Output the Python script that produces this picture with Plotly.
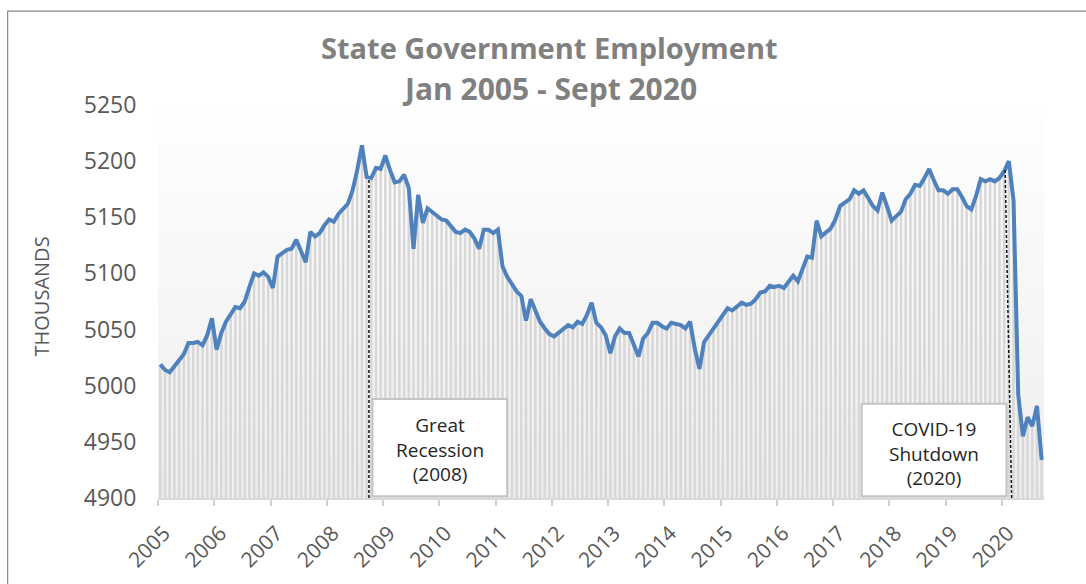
import plotly.graph_objects as go

# ---------------- data (thousands, monthly, Jan 2005 - Sep 2020) ----------------
employment = [
    5019, 5014, 5012, 5017, 5022, 5028, 5038, 5038, 5039, 5036, 5045, 5060,   # 2005
    5032, 5047, 5057, 5063, 5070, 5069, 5075, 5088, 5100, 5098, 5101, 5097,   # 2006
    5087, 5115, 5118, 5121, 5122, 5130, 5120, 5110, 5137, 5133, 5136, 5143,   # 2007
    5148, 5146, 5153, 5157, 5162, 5174, 5192, 5214, 5186, 5185, 5194, 5193,   # 2008
    5205, 5192, 5181, 5182, 5188, 5176, 5122, 5170, 5145, 5158, 5155, 5151,   # 2009
    5148, 5147, 5142, 5137, 5136, 5139, 5137, 5131, 5122, 5139, 5139, 5136,   # 2010
    5139, 5106, 5097, 5091, 5084, 5080, 5058, 5077, 5068, 5057, 5051, 5046,   # 2011
    5044, 5047, 5050, 5054, 5052, 5057, 5055, 5063, 5074, 5056, 5052, 5045,   # 2012
    5029, 5044, 5051, 5047, 5047, 5037, 5026, 5042, 5047, 5056, 5056, 5053,   # 2013
    5051, 5056, 5055, 5054, 5051, 5057, 5033, 5015, 5039, 5045, 5050, 5056,   # 2014
    5062, 5069, 5067, 5071, 5074, 5072, 5073, 5077, 5083, 5084, 5089, 5088,   # 2015
    5089, 5087, 5093, 5098, 5093, 5105, 5115, 5114, 5147, 5133, 5137, 5140,   # 2016
    5148, 5160, 5163, 5166, 5174, 5171, 5174, 5167, 5160, 5156, 5172, 5160,   # 2017
    5147, 5151, 5155, 5166, 5171, 5179, 5178, 5185, 5193, 5183, 5174, 5174,   # 2018
    5171, 5175, 5175, 5168, 5160, 5157, 5169, 5184, 5182, 5184, 5182, 5185,   # 2019
    5191, 5200, 5165, 4992, 4955, 4972, 4964, 4982, 4934,                     # 2020
]
year_labels = [str(y) for y in range(2005, 2021)]
y_ticks = [4900, 4950, 5000, 5050, 5100, 5150, 5200, 5250]
y_range = [4900, 5250]

# event markers (month index, value at top of the marker line)
recession_idx, recession_top = 44.5, 5184
covid_top_idx, covid_bottom_idx, covid_top = 180.2, 181.6, 5194
events_text = {
    "recession": "Great<br>Recession<br>(2008)",
    "covid": "COVID-19<br>Shutdown<br>(2020)",
}

month_idx = list(range(len(employment)))
x_range = [-0.5, len(employment) - 0.5]
year_tickvals = [12 * k - 0.5 for k in range(len(year_labels))]

TXT = "#595959"
FONT = "Open Sans"

fig = go.Figure()
fig.add_trace(go.Bar(
    x=month_idx, y=employment,
    marker=dict(color="#d8d8d8", line=dict(width=0)),
    hoverinfo="skip", showlegend=False,
))
fig.add_trace(go.Scatter(
    x=month_idx, y=employment, mode="lines",
    line=dict(color="#4F81BD", width=4),
    showlegend=False,
))

shapes = []
# subtle vertical gradient background of the plot area
n_bands = 30
for k in range(n_bands):
    f = k / (n_bands - 1)
    c = int(round(0xee + (0xfe - 0xee) * f))
    y0 = y_range[0] + (y_range[1] - y_range[0]) * k / n_bands
    y1 = y_range[0] + (y_range[1] - y_range[0]) * (k + 1) / n_bands
    shapes.append(dict(type="rect", xref="x", yref="y", x0=x_range[0], x1=x_range[1],
                       y0=y0, y1=y1, fillcolor=f"rgb({c},{c},{c})",
                       line=dict(width=0), layer="below"))

# dashed event lines
shapes.append(dict(type="line", xref="x", yref="y", x0=recession_idx, x1=recession_idx,
                   y0=y_range[0], y1=recession_top,
                   line=dict(color="#111111", width=1.5, dash="3px,2px"), layer="above"))
shapes.append(dict(type="line", xref="x", yref="y", x0=covid_bottom_idx, x1=covid_top_idx,
                   y0=y_range[0], y1=covid_top,
                   line=dict(color="#111111", width=1.5, dash="3px,2px"), layer="above"))
# text boxes
shapes.append(dict(type="rect", xref="x", yref="y", x0=45.25, x1=73.98, y0=4901.5, y1=4988.2,
                   fillcolor="white", line=dict(color="#c4c4c4", width=2), layer="above"))
shapes.append(dict(type="rect", xref="x", yref="y", x0=149.6, x1=180.5, y0=4901.5, y1=4984,
                   fillcolor="white", line=dict(color="#c4c4c4", width=2), layer="above"))
# outer chart border
shapes.append(dict(type="rect", xref="paper", yref="paper", x0=-0.1697, x1=1.06,
                   y0=-0.25, y1=1.2389, line=dict(color="#8a8a8a", width=1.2),
                   fillcolor="rgba(0,0,0,0)", layer="below"))

annotations = [
    dict(text="<b>State Government Employment</b>", xref="paper", yref="paper",
         x=0.4423, y=1.147, xanchor="center", yanchor="middle", showarrow=False,
         font=dict(family=FONT, size=29, color="#808080")),
    dict(text="<b>Jan 2005 - Sept 2020</b>", xref="paper", yref="paper",
         x=0.4423, y=1.043, xanchor="center", yanchor="middle", showarrow=False,
         font=dict(family=FONT, size=30, color="#808080")),
    dict(text="THOUSANDS", xref="paper", yref="paper", x=-0.1313, y=0.512,
         textangle=-90, xanchor="center", yanchor="middle", showarrow=False,
         font=dict(family=FONT, size=20, color=TXT)),
    dict(text=events_text["recession"], xref="x", yref="y", x=59.6, y=4943,
         xanchor="center", yanchor="middle", showarrow=False,
         font=dict(family=FONT, size=19, color="#262626")),
    dict(text=events_text["covid"], xref="x", yref="y", x=165.1, y=4940,
         xanchor="center", yanchor="middle", showarrow=False,
         font=dict(family=FONT, size=19, color="#262626")),
]

fig.update_layout(
    width=1086, height=584,
    margin=dict(l=158, r=42, t=105, b=86, pad=0),
    paper_bgcolor="white", plot_bgcolor="white",
    bargap=0.45,
    shapes=shapes, annotations=annotations,
    font=dict(family=FONT, color=TXT),
    xaxis=dict(range=x_range, tickmode="array", tickvals=year_tickvals, ticktext=year_labels,
               tickangle=-45, tickfont=dict(family=FONT, size=21, color=TXT),
               showgrid=False, zeroline=False, showline=True, linecolor="#d9d9d9", linewidth=1.5,
               ticks="outside", ticklen=6, tickwidth=1.5, tickcolor="#d0d0d0",
               ticklabelstandoff=7, ticklabelshift=6, automargin=False),
    yaxis=dict(range=y_range, tickmode="array", tickvals=y_ticks,
               tickfont=dict(family=FONT, size=23, color=TXT),
               showgrid=False, zeroline=False, showline=False,
               ticks="outside", ticklen=16, tickcolor="rgba(0,0,0,0)", automargin=False),
)

fig.write_html("out.html")
